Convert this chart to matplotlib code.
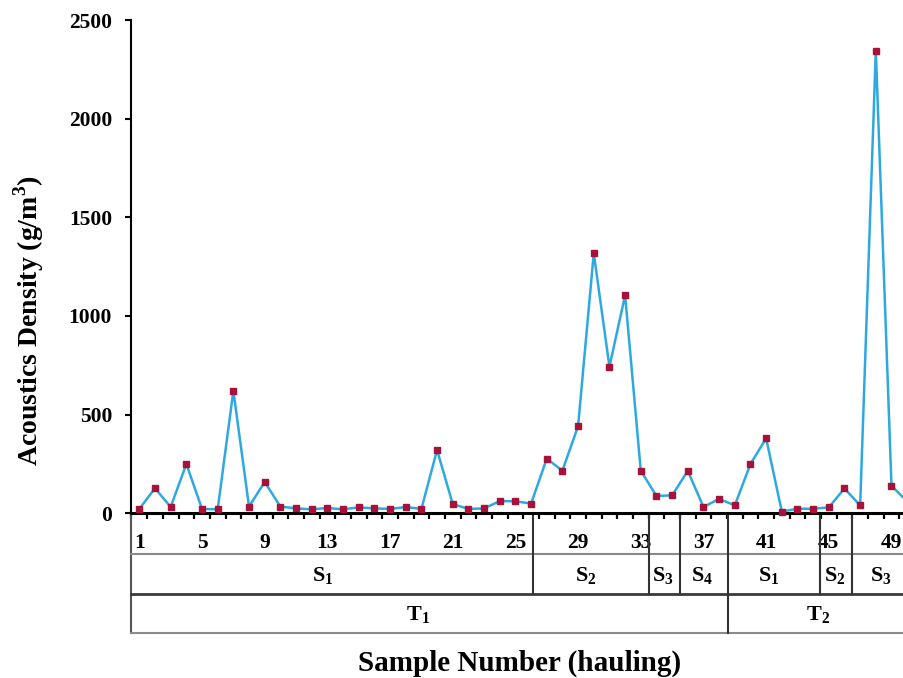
import matplotlib
matplotlib.use("Agg")
import matplotlib.pyplot as plt
from matplotlib.transforms import blended_transform_factory

# ---- data ----
samples = list(range(1, 51))
density = [22, 127, 32, 250, 22, 20, 621, 34, 159, 34,
           25, 20, 27, 20, 30, 25, 22, 32, 22, 321,
           47, 22, 25, 62, 61, 49, 277, 216, 442, 1318,
           743, 1105, 216, 88, 91, 215, 32, 73, 40, 250,
           380, 9, 23, 23, 30, 126, 40, 2345, 140, 60]
xtick_labels = [1, 5, 9, 13, 17, 21, 25, 29, 33, 37, 41, 45, 49]
yticks = [0, 500, 1000, 1500, 2000, 2500]

s_labels = ["1", "2", "3", "4", "1", "2", "3"]
s_label_pos = [12.7, 29.5, 34.4, 36.9, 41.2, 45.4, 48.3]
s_bounds = [26.1, 33.5, 35.5, 38.55, 44.45, 46.5]
t_labels = ["1", "2"]
t_label_pos = [18.8, 44.3]
t_bounds = [38.55]

plt.rcParams['font.family'] = ['Liberation Serif', 'DejaVu Serif']
plt.rcParams['mathtext.fontset'] = 'custom'
plt.rcParams['mathtext.rm'] = 'Liberation Serif'
plt.rcParams['mathtext.bf'] = 'Liberation Serif:bold'

W, H = 904, 678
fig = plt.figure(figsize=(W / 100, H / 100), dpi=100)

# axes geometry in pixels
x_left_px = 131.5
unit_px = 15.67
xmin, xmax = 0.5, 50.5
y0_px, y2500_px = 513.3, 20.0
ax = fig.add_axes([x_left_px / W, (H - y0_px) / H,
                   (xmax - xmin) * unit_px / W, (y0_px - y2500_px) / H])

ax.plot(samples, density, color='#2EA9DF', lw=1.8, zorder=2, clip_on=False)
ax.plot(samples, density, ls='none', marker='s', ms=4.2, color='#A8123A',
        mec='#A8123A', zorder=3, clip_on=False)

ax.set_xlim(xmin, xmax)
ax.set_ylim(0, 2500)
ax.set_yticks(yticks)
ax.set_yticklabels([str(v) for v in yticks], fontsize=15.5, fontweight='bold')
ax.set_xticks(xtick_labels)
ax.set_xticklabels([str(v) for v in xtick_labels], fontsize=15.5, fontweight='bold')
ax.set_xticks([i + 0.5 for i in range(0, 51)], minor=True)
ax.tick_params(axis='x', which='major', length=0, pad=14)
ax.tick_params(axis='x', which='minor', length=4.5, width=1.6, direction='out')
ax.tick_params(axis='y', which='major', length=4, width=1.5, direction='out', pad=10)

for s in ['top', 'right']:
    ax.spines[s].set_visible(False)
ax.spines['left'].set_linewidth(1.5)
ax.spines['bottom'].set_linewidth(2.2)

def fy(px):
    return (H - px) / H

fig.text(29 / W, fy(321), 'Acoustics Density (g/m$^{\\mathbf{3}}$)', rotation=90,
         ha='center', va='center', fontsize=20, fontweight='bold')

# ---- table below axis ----
tr = blended_transform_factory(ax.transData, fig.transFigure)

row1_bot, row2_bot, row3_bot = 554, 594, 633
xr = 52
ax.plot([xmin, xmin], [fy(y0_px), fy(row3_bot)], transform=tr, color='#555555',
        lw=1.5, clip_on=False)
ax.plot([xmin, xr], [fy(row1_bot)] * 2, transform=tr, color='#8a8a8a', lw=1.5, clip_on=False)
ax.plot([xmin, xr], [fy(row2_bot)] * 2, transform=tr, color='#3a3a3a', lw=2.0, clip_on=False)
ax.plot([xmin, xr], [fy(row3_bot)] * 2, transform=tr, color='#8a8a8a', lw=1.5, clip_on=False)
for b in s_bounds:
    bottom = row3_bot if b in t_bounds else row2_bot
    ax.plot([b, b], [fy(y0_px), fy(bottom)], transform=tr, color='#333333',
            lw=1.5, clip_on=False)

for lab, pos in zip(s_labels, s_label_pos):
    ax.text(pos, fy(576), r'$\mathbf{S}_{\mathbf{' + lab + '}}$', transform=tr,
            ha='center', va='center', fontsize=16)
for lab, pos in zip(t_labels, t_label_pos):
    ax.text(pos, fy(615), r'$\mathbf{T}_{\mathbf{' + lab + '}}$', transform=tr,
            ha='center', va='center', fontsize=16)

fig.text(520 / W, fy(663), 'Sample Number (hauling)', ha='center', va='center',
         fontsize=21, fontweight='bold')

fig.savefig('out.png', dpi=100)
